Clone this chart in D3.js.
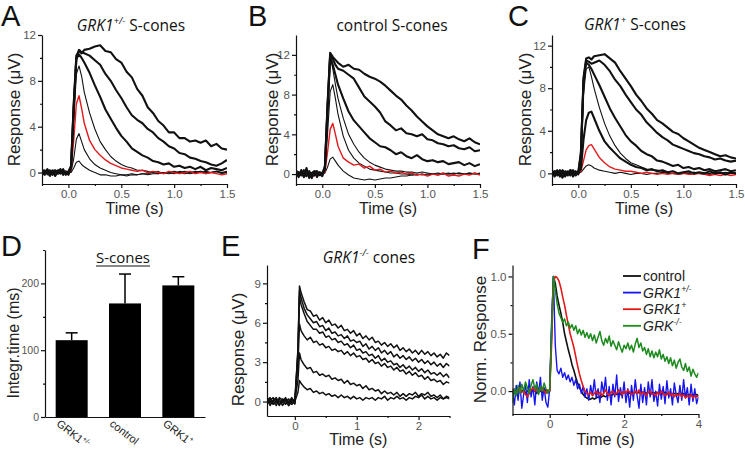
<!DOCTYPE html>
<html lang="en">
<head>
<meta charset="UTF-8">
<title>GRK1 cone responses</title>
<script src="https://d3js.org/d3.v7.min.js"></script>
<style>
  body { margin: 0; background: #fff; }
  svg { display: block; }
  .tick text { font-family: "Liberation Sans", Arial, sans-serif; font-size: 11.5px; fill: #555; }
  .bars .tick text { font-size: 10.5px; }
  .axis path, .axis line { stroke: #111; stroke-width: 1.2px; }
  .letter { font-family: "Liberation Sans", Arial, sans-serif; font-size: 29px; fill: #111; }
  .title { font-family: "Open Sans", sans-serif; font-size: 15.5px; fill: #111; }
  .ylab { font-family: "Liberation Sans", Arial, sans-serif; font-size: 17px; fill: #222; }
  .xlab { font-family: "Liberation Sans", Arial, sans-serif; font-size: 16px; fill: #222; }
  .trace { fill: none; stroke-linejoin: round; }
</style>
</head>
<body>
<svg width="745" height="449"></svg>
<script>
// ---------- data ----------
// time grid for panels A-C (s)
const timeS = [-0.25,-0.225,-0.2,-0.175,-0.15,-0.125,-0.1,-0.075,-0.05,-0.025,0,0.025,0.05,0.075,0.1,0.125,0.15,
  0.2,0.25,0.3,0.35,0.4,0.45,0.5,0.55,0.6,0.65,0.7,0.75,0.8,0.85,0.9,0.95,1,1.05,1.1,1.15,1.2,1.25,1.3,1.35,1.4,1.45,1.5];

// A: GRK1+/- S-cones (uV)
const hetThick = [
  [0.1,-0.2,0.3,-0.1,0.2,-0.3,0.1,0.3,-0.2,0.1,0.0, 0.6,6.0,10.2,10.6,10.4,10.7,
   10.8,11.0,11.1,10.6,10.5,9.9,9.6,8.8,8.3,7.3,6.7,5.7,5.2,4.5,4.1,3.5,3.5,3.0,3.0,2.7,2.8,2.6,2.8,2.3,2.5,2.1,2.0],
  [-0.2,0.2,0.0,-0.3,0.1,0.2,-0.1,0.0,0.3,-0.2,0.1, 0.5,5.8,10.0,10.7,10.5,10.4,
   10.2,9.8,9.4,8.6,8.0,7.2,6.5,5.7,5.0,4.6,4.3,3.8,3.5,3.0,2.7,2.3,2.1,1.7,1.6,1.3,1.2,1.0,0.9,0.7,0.6,0.8,1.1],
  [0.3,-0.1,0.1,0.2,-0.2,0.0,0.2,-0.1,0.1,0.0,-0.2, 0.4,5.5,9.9,10.3,10.0,9.6,
   8.7,7.6,6.6,5.5,4.7,3.9,3.2,2.7,2.1,1.8,1.5,1.3,1.0,0.9,0.7,0.8,0.5,0.6,0.4,0.5,0.3,0.5,0.2,0.4,0.3,0.2,0.4]
];
const hetThin = [
  [0.0,0.1,-0.2,0.1,0.0,0.2,-0.1,0.1,-0.2,0.1,0.0, 0.3,4.5,8.6,9.3,8.4,7.0,
   5.2,3.8,2.7,2.0,1.4,1.0,0.7,0.5,0.4,0.2,0.2,0.1,0.0,0.1,-0.1,0.0,-0.1,0.1,0.0,-0.1,0.0,0.1,-0.1,0.0,0.1,-0.1,0.0],
  [-0.1,0.1,0.0,-0.1,0.1,0.0,-0.1,0.1,0.0,-0.1,0.0, 0.1,1.2,2.9,3.4,2.7,2.0,
   1.2,0.7,0.4,0.2,0.0,-0.1,-0.2,-0.2,-0.1,-0.2,-0.1,-0.1,0.0,-0.1,0.0,0.0,0.1,0.0,0.1,0.0,0.1,0.0,0.1,0.0,0.1,0.0,0.1],
  [0.0,-0.1,0.1,0.0,-0.1,0.1,0.0,-0.1,0.1,0.0,0.0, 0.0,0.4,0.9,1.0,0.7,0.5,
   0.2,0.0,-0.2,-0.2,-0.3,-0.3,-0.2,-0.3,-0.2,-0.2,-0.1,-0.2,-0.1,-0.1,0.0,-0.1,0.0,0.0,-0.1,0.0,0.0,0.1,0.0,0.0,0.1,0.0,0.0]
];
const hetRed = [0.1,-0.1,0.0,0.1,-0.1,0.0,0.1,0.0,-0.1,0.1,0.0, 0.2,2.8,6.0,6.7,5.6,4.3,
  2.8,2.0,1.5,1.1,0.8,0.6,0.4,0.3,0.2,0.1,0.2,0.0,0.1,0.0,-0.1,0.1,0.0,-0.1,0.0,0.1,-0.1,0.0,-0.1,0.0,-0.1,-0.2,-0.1];

// B: control S-cones (uV)
const ctlThick = [
  [0.2,-0.3,0.4,-0.2,0.6,-0.4,0.1,0.3,-0.3,0.2,0.0, 0.8,7.0,12.2,11.8,11.5,11.2,
   10.8,11.0,10.6,10.5,10.1,9.8,9.6,9.3,8.9,8.4,7.9,7.5,6.9,6.4,5.8,5.3,4.8,4.4,4.0,3.8,3.6,3.8,3.5,3.3,3.6,3.2,3.0],
  [-0.3,0.2,0.0,0.4,-0.2,0.1,-0.4,0.2,0.3,-0.1,0.1, 0.6,6.8,12.0,11.6,11.0,10.6,
   10.4,10.0,9.6,8.7,7.8,7.3,6.8,6.2,5.3,4.9,4.4,4.6,4.1,4.0,3.8,4.0,3.5,3.4,3.1,3.0,2.8,2.9,2.6,2.5,2.7,2.3,2.4],
  [0.4,-0.1,0.2,-0.3,0.0,0.3,-0.2,-0.1,0.2,0.0,-0.2, 0.5,6.5,11.8,11.0,10.0,9.0,
   7.6,6.3,5.4,4.8,4.2,3.6,3.2,2.8,2.7,2.4,2.0,2.2,1.8,1.6,1.9,1.5,1.3,1.4,1.2,1.3,1.0,1.1,1.2,0.9,1.1,0.8,1.0]
];
const ctlThin = [
  [0.1,0.0,-0.2,0.2,0.1,-0.1,0.0,0.2,-0.1,0.0,0.1, 0.5,6.6,11.9,10.6,9.0,7.6,
   5.6,4.0,3.0,2.2,1.6,1.2,0.9,0.7,0.5,0.4,0.3,0.3,0.2,0.2,0.1,0.2,0.1,0.0,0.1,0.0,0.1,0.0,0.1,0.0,0.1,0.0,0.1],
  [0.0,0.1,-0.1,0.0,0.1,0.0,-0.1,0.1,0.0,-0.1,0.0, 0.3,4.0,8.3,9.0,7.6,6.0,
   3.8,2.4,1.6,1.1,0.8,0.5,0.4,0.3,0.2,0.1,0.1,0.0,0.0,-0.1,0.0,-0.1,0.0,0.0,-0.1,0.0,0.0,0.1,0.0,0.0,0.1,0.0,0.0],
  [0.0,-0.1,0.1,0.0,-0.1,0.0,0.1,0.0,-0.1,0.0,0.0, 0.1,0.7,1.5,1.7,1.3,0.9,
   0.3,-0.1,-0.4,-0.5,-0.6,-0.5,-0.6,-0.5,-0.4,-0.4,-0.3,-0.2,-0.2,-0.1,-0.1,0.0,-0.1,0.0,0.0,0.1,0.0,0.0,0.1,0.0,0.0,0.1,0.0]
];
const ctlRed = [0.1,-0.1,0.0,0.2,-0.1,0.0,0.1,-0.2,0.0,0.1,0.0, 0.2,2.2,4.5,5.1,4.0,2.8,
  1.6,1.2,0.9,1.0,0.6,0.8,0.4,0.5,0.2,0.3,0.1,0.2,0.0,0.1,-0.1,0.0,-0.2,0.0,-0.1,0.1,-0.2,-0.1,-0.2,0.0,-0.1,0.1,-0.1];

// C: GRK1+ S-cones (uV)
const plusThick = [
  [0.2,-0.3,0.3,0.0,-0.4,0.2,0.1,-0.2,0.3,-0.1,0.1, 2.0,9.0,10.8,10.9,10.7,11.0,
   11.1,11.2,10.8,10.4,9.6,8.9,8.2,7.4,6.8,6.1,5.6,5.0,4.7,4.3,3.9,3.7,3.3,3.0,2.7,2.4,2.2,2.0,1.8,1.6,1.7,1.5,1.4],
  [-0.3,0.1,0.2,-0.2,0.3,-0.1,0.0,0.3,-0.3,0.1,0.0, 1.8,8.8,10.6,10.5,10.3,10.4,
   10.6,10.2,9.6,8.8,8.2,7.4,6.7,6.0,5.5,4.8,4.3,3.8,3.4,3.1,2.7,2.5,2.3,2.1,1.9,1.8,1.6,1.5,1.3,1.4,1.2,1.1,1.2],
  [0.1,0.2,-0.2,0.3,0.0,-0.3,0.2,0.0,-0.1,0.2,-0.1, 1.6,8.5,10.4,10.2,9.8,9.3,
   8.3,7.2,6.1,5.2,4.4,3.6,3.0,2.6,2.1,1.8,1.6,1.2,1.1,0.9,0.7,0.8,0.5,0.6,0.4,0.5,0.3,0.4,0.2,0.3,0.4,0.2,0.3],
  [-0.2,0.2,0.1,-0.3,0.2,0.0,-0.2,0.3,0.1,-0.2,0.1, 0.4,3.2,5.0,5.7,5.8,5.2,
   4.0,3.0,2.4,1.9,1.4,1.1,0.8,0.6,0.5,0.3,0.4,0.2,0.3,0.1,0.2,0.0,0.1,0.2,0.0,0.1,0.0,0.2,0.0,0.1,-0.1,0.1,0.0]
];
const plusThin = [
  [0.0,0.1,-0.1,0.0,0.2,-0.1,0.0,0.1,0.0,-0.1,0.0, 1.2,7.5,9.8,10.0,9.1,8.0,
   6.2,4.7,3.5,2.6,1.9,1.4,1.0,0.8,0.6,0.4,0.3,0.3,0.2,0.1,0.2,0.0,0.1,0.0,0.1,0.0,-0.1,0.0,0.1,0.0,-0.1,0.0,0.0],
  [0.0,0.1,-0.1,0.0,0.1,0.0,-0.1,0.0,0.1,0.0,0.0, 0.1,0.4,0.7,0.8,0.7,0.5,
   0.3,0.2,0.1,0.0,0.1,0.0,-0.1,0.0,0.0,-0.1,0.0,0.0,0.1,0.0,0.0,-0.1,0.0,0.0,0.1,0.0,0.0,-0.1,0.0,0.0,0.1,0.0,0.0]
];
const plusRed = [0.1,-0.1,0.0,0.1,0.0,-0.1,0.1,0.0,-0.1,0.0,0.0, 0.2,1.2,2.2,2.6,2.7,2.3,
  1.5,1.0,0.6,0.4,0.3,0.2,0.2,0.1,0.0,0.1,0.0,-0.1,0.0,-0.1,0.0,-0.1,0.0,-0.1,-0.1,0.0,-0.1,-0.2,-0.1,-0.2,-0.1,-0.2,-0.1];

// D: integration time (ms)
const barGroups = ["GRK1+/-", "control", "GRK1+"];
const barMeans = [115, 170, 197];
const barErrors = [11, 44, 13];

// E: GRK1-/- cones (uV)
const timeE = [-0.45,-0.4,-0.35,-0.3,-0.25,-0.2,-0.15,-0.1,-0.05,0,0.05,0.075,
  0.1,0.15,0.2,0.25,0.3,0.35,0.4,0.45,0.5,0.55,0.6,0.65,0.7,0.75,0.8,0.85,0.9,0.95,1,1.05,1.1,1.15,1.2,1.25,1.3,1.35,1.4,1.45,
  1.5,1.55,1.6,1.65,1.7,1.75,1.8,1.85,1.9,1.95,2,2.05,2.1,2.15,2.2,2.25,2.3,2.35,2.4,2.45,2.5];
const koTraces = [
  [0.2,-0.3,0.1,0.3,-0.2,0.0,0.3,-0.3,0.1,-0.1, 4.0,8.8,
   8.3,7.6,7.0,6.9,6.5,6.6,6.2,6.4,6.0,6.2,5.8,5.9,5.6,5.8,5.4,5.5,5.2,5.4,5.0,5.2,4.8,5.0,4.7,4.9,4.5,4.6,4.3,4.5,
   4.2,4.4,4.1,4.3,3.9,4.1,3.8,4.0,3.7,3.9,3.6,3.9,3.6,3.8,3.5,3.7,3.4,3.6,3.3,3.7,3.5],
  [-0.2,0.1,0.3,-0.1,0.2,-0.3,0.0,0.2,-0.2,0.1, 3.8,8.4,
   7.9,7.1,6.6,6.3,6.0,6.1,5.7,5.8,5.4,5.6,5.2,5.3,5.0,5.1,4.8,5.0,4.6,4.7,4.5,4.6,4.2,4.4,4.0,4.2,3.9,4.1,3.7,3.9,
   3.6,3.8,3.4,3.6,3.3,3.5,3.2,3.4,3.1,3.3,3.0,3.2,2.9,3.1,2.8,3.0,2.7,2.9,2.6,2.9,2.7],
  [0.1,0.3,-0.2,0.0,-0.3,0.2,0.1,-0.1,0.3,-0.2, 3.6,8.0,
   7.4,6.7,6.1,5.8,5.5,5.5,5.2,5.3,4.9,5.0,4.7,4.8,4.5,4.6,4.3,4.4,4.1,4.3,3.9,4.0,3.7,3.8,3.5,3.6,3.3,3.5,3.1,3.3,
   3.0,3.1,2.8,2.9,2.6,2.8,2.5,2.7,2.4,2.6,2.3,2.5,2.2,2.4,2.1,2.2,2.0,2.2,1.9,2.1,1.8],
  [-0.1,0.2,0.0,-0.3,0.3,0.1,-0.2,0.0,0.2,-0.1, 2.8,5.9,
   5.4,5.0,4.7,4.9,4.5,4.6,4.3,4.4,4.1,4.2,3.9,4.0,3.8,3.9,3.6,3.8,3.5,3.7,3.4,3.5,3.2,3.3,3.0,3.2,2.9,3.0,2.7,2.9,
   2.6,2.7,2.4,2.6,2.3,2.4,2.1,2.3,2.0,2.2,1.9,2.0,1.7,1.9,1.6,1.7,1.5,1.6,1.3,1.5,1.4],
  [0.2,-0.1,0.1,0.2,-0.2,0.0,0.1,-0.3,0.0,0.2, 1.6,3.7,
   3.2,2.8,2.5,2.6,2.2,2.3,2.0,2.1,1.9,2.0,1.7,1.8,1.6,1.7,1.4,1.6,1.3,1.4,1.2,1.3,1.0,1.2,0.9,1.0,0.8,0.9,0.6,0.8,
   0.6,0.7,0.5,0.7,0.4,0.6,0.4,0.6,0.5,0.7,0.4,0.6,0.5,0.7,0.4,0.5,0.3,0.5,0.2,0.4,0.3],
  [-0.1,0.0,-0.2,0.1,0.0,-0.1,0.2,0.0,-0.2,0.0, 0.7,1.6,
   1.4,1.1,0.9,1.0,0.7,0.8,0.6,0.7,0.5,0.6,0.4,0.5,0.3,0.5,0.3,0.4,0.2,0.4,0.2,0.3,0.1,0.3,0.2,0.3,0.1,0.3,0.2,0.4,
   0.1,0.3,0.2,0.4,0.2,0.3,0.1,0.3,0.2,0.4,0.3,0.5,0.2,0.4,0.2,0.3,0.1,0.3,0.2,0.3,0.2]
];

// F: normalized responses
const timeF = [-1,-0.95,-0.9,-0.85,-0.8,-0.75,-0.7,-0.65,-0.6,-0.55,-0.5,-0.45,-0.4,-0.35,-0.3,-0.25,-0.2,-0.15,-0.1,-0.05,
  0,0.05,0.1,0.15,0.2,0.25,0.3,0.35,0.4,0.45,0.5,0.55,0.6,0.65,0.7,0.75,0.8,0.85,0.9,0.95,
  1,1.05,1.1,1.15,1.2,1.25,1.3,1.35,1.4,1.45,1.5,1.55,1.6,1.65,1.7,1.75,1.8,1.85,1.9,1.95,
  2,2.05,2.1,2.15,2.2,2.25,2.3,2.35,2.4,2.45,2.5,2.55,2.6,2.65,2.7,2.75,2.8,2.85,2.9,2.95,
  3,3.05,3.1,3.15,3.2,3.25,3.3,3.35,3.4,3.45,3.5,3.55,3.6,3.65,3.7,3.75,3.8,3.85,3.9,3.95,4];
const normControl = [0.01,-0.02,0.0,0.02,-0.01,0.0,0.01,-0.02,0.0,0.01,-0.01,0.02,0.0,-0.02,0.01,0.0,-0.01,0.02,0.0,-0.01,
  0.0,0.5,1.0,0.94,0.83,0.75,0.68,0.6,0.5,0.43,0.36,0.3,0.23,0.18,0.12,0.07,0.03,0.0,-0.03,-0.05,
  -0.06,-0.07,-0.07,-0.06,-0.07,-0.06,-0.05,-0.06,-0.05,-0.04,-0.05,
  -0.04,-0.03,-0.04,-0.03,-0.02,-0.03,-0.02,-0.03,-0.02,-0.01,-0.02,-0.01,-0.02,-0.01,-0.02,-0.01,-0.02,-0.01,-0.02,-0.01,
  -0.01,-0.02,-0.01,-0.02,-0.01,-0.02,-0.01,-0.02,-0.01,-0.02,-0.02,-0.01,-0.02,-0.03,-0.02,-0.03,-0.02,-0.03,-0.02,-0.03,
  -0.03,-0.02,-0.03,-0.04,-0.03,-0.04,-0.03,-0.04,-0.03,-0.04];
const normHet = [0.0,-0.12,0.05,-0.08,0.08,-0.15,-0.03,0.06,-0.1,0.1,-0.05,0.04,-0.12,0.08,-0.02,0.12,-0.08,0.03,-0.1,-0.14,
  0.02,0.6,1.0,0.4,0.18,0.15,0.2,0.12,0.16,0.1,0.14,0.08,0.12,0.05,0.1,0.02,0.06,-0.02,0.04,-0.05,0.02,
  -0.08,0.05,-0.04,0.1,-0.06,0.02,-0.1,0.08,-0.02,0.12,-0.08,0.04,-0.12,0.06,-0.05,0.14,-0.09,0.03,-0.06,0.08,
  -0.1,0.02,-0.14,0.05,-0.08,0.1,-0.04,-0.15,0.06,-0.1,0.03,-0.12,0.08,-0.05,0.1,-0.09,0.0,-0.13,0.06,-0.07,
  0.04,-0.11,0.09,-0.06,0.02,-0.12,0.07,-0.03,-0.1,0.05,-0.08,0.1,-0.06,0.03,-0.12,0.06,-0.09,0.02,-0.11,-0.05];
const normPlus = [0.02,0.0,-0.02,0.01,0.03,-0.01,0.0,-0.03,-0.05,-0.02,0.01,0.03,0.0,0.02,-0.01,0.01,0.03,0.0,-0.02,0.01,
  0.0,0.4,0.95,1.0,0.99,0.96,0.9,0.82,0.75,0.66,0.58,0.5,0.44,0.38,0.3,0.22,0.15,0.09,0.04,0.0,-0.02,
  -0.03,-0.01,-0.04,-0.02,0.0,-0.03,-0.01,-0.04,-0.02,0.01,
  -0.02,-0.04,-0.01,0.0,-0.03,-0.02,0.01,-0.01,-0.03,0.0,
  -0.02,0.01,-0.01,-0.03,-0.02,0.0,-0.02,0.01,-0.03,-0.01,
  -0.02,-0.04,-0.01,0.0,-0.03,-0.02,-0.04,-0.01,-0.03,0.0,
  -0.02,-0.04,-0.03,-0.01,-0.04,-0.02,-0.05,-0.03,-0.04,-0.02,
  -0.05,-0.03,-0.06,-0.04,-0.05,-0.03,-0.06,-0.04,-0.05,-0.04];
const normKo = [-0.1,0.02,-0.04,0.05,-0.02,0.06,0.0,0.08,0.03,-0.02,0.05,0.1,0.02,0.06,-0.03,0.04,0.0,0.07,0.02,-0.02,
  0.02,0.5,1.0,0.88,0.76,0.68,0.64,0.6,0.63,0.57,0.6,0.55,0.58,0.53,0.57,0.5,0.54,0.49,0.53,0.47,0.51,
  0.46,0.5,0.44,0.49,0.42,0.47,0.52,0.44,0.4,0.46,0.42,0.48,0.39,0.44,0.4,0.36,0.43,0.38,0.34,0.4,
  0.37,0.42,0.36,0.4,0.34,0.41,0.46,0.38,0.42,0.35,0.38,0.32,0.37,0.3,0.35,0.29,0.34,0.3,0.36,0.28,
  0.32,0.26,0.3,0.24,0.29,0.22,0.27,0.2,0.25,0.28,0.21,0.18,0.24,0.17,0.21,0.13,0.19,0.15,0.12,0.16];
const legendLabels = [["control", ""], ["GRK1", "+/-"], ["GRK1", "+"], ["GRK", "-/-"]];

// ---------- drawing ----------
const svg = d3.select("svg");
const RED = "#e3191c", BLUE = "#1515f0", GREEN = "#1d8a1d";

function rich(sel, parts, size) {
  let shift = 0;
  parts.forEach(p => {
    const ts = sel.append("tspan").text(p.t);
    if (p.it) ts.attr("font-style", "italic");
    const target = p.sup ? -size * 0.42 : 0;
    if (target !== shift) { ts.attr("dy", target - shift); shift = target; }
    if (p.sup) ts.attr("font-size", size * 0.62);
  });
}

function drawAxes(g, x, y, o) {
  const y0 = y.range()[0], x0 = x.range()[0];
  g.append("g").attr("class", "axis").attr("transform", `translate(0,${y0})`)
    .call(d3.axisBottom(x).tickValues(o.xMajor).tickSize(4).tickSizeOuter(0).tickPadding(2).tickFormat(o.xFmt));
  g.append("g").attr("class", "axis").attr("transform", `translate(0,${y0})`)
    .call(d3.axisBottom(x).tickValues(o.xMinor).tickSize(2).tickFormat(""))
    .select(".domain").remove();
  g.append("g").attr("class", "axis").attr("transform", `translate(${x0},0)`)
    .call(d3.axisLeft(y).tickValues(o.yMajor).tickSize(4).tickSizeOuter(0).tickPadding(2).tickFormat(o.yFmt));
  g.append("g").attr("class", "axis").attr("transform", `translate(${x0},0)`)
    .call(d3.axisLeft(y).tickValues(o.yMinor).tickSize(2).tickFormat(""))
    .select(".domain").remove();
}

function tracePanel(o) {
  const x = d3.scaleLinear().domain(o.xDomain).range(o.xRange);
  const y = d3.scaleLinear().domain(o.yDomain).range(o.yRange);
  const g = svg.append("g");
  g.append("clipPath").attr("id", "clip-" + o.id).append("rect")
    .attr("x", o.xRange[0]).attr("y", o.yRange[1])
    .attr("width", o.xRange[1] - o.xRange[0]).attr("height", o.yRange[0] - o.yRange[1]);
  const plot = g.append("g").attr("clip-path", `url(#clip-${o.id})`);
  const line = d3.line()
    .defined(d => d[0] != null && d[1] != null)
    .x(d => x(d[0])).y(d => y(d[1]));
  o.series.forEach(s => {
    plot.append("path").attr("class", "trace")
      .attr("d", line(s.values.map((v, i) => [s.time[i], v])))
      .attr("stroke", s.color).attr("stroke-width", s.width);
  });
  drawAxes(g, x, y, o);
  // axis titles
  g.append("text").attr("class", "ylab").attr("text-anchor", "middle").attr("dominant-baseline", "central")
    .attr("transform", `translate(${o.yLabX},${(o.yRange[0] + o.yRange[1]) / 2 + (o.yLabDy || 0)}) rotate(-90)`)
    .text(o.yLabel);
  g.append("text").attr("class", "xlab").attr("text-anchor", "middle")
    .attr("x", (o.xRange[0] + o.xRange[1]) / 2).attr("y", o.xLabY).text("Time (s)");
  return { x, y, g };
}

// thin traces first, then red, thick traces on top
function sSeries(thick, thin, red, t) {
  return thin.map(v => ({ time: t, values: v, color: "#111", width: 1.1 }))
    .concat([{ time: t, values: red, color: RED, width: 1.4 }])
    .concat(thick.map(v => ({ time: t, values: v, color: "#111", width: 2.1 })));
}

const sAxis = {
  xDomain: [-0.25, 1.5], xMajor: [0, 0.5, 1, 1.5], xMinor: [-0.25, 0.25, 0.75, 1.25], xFmt: d3.format(".1f"),
  yMajor: [0, 4, 8, 12], yMinor: [2, 6, 10], yFmt: d3.format("d"), yLabel: "Response (\u03bcV)", xLabY: 214
};

tracePanel(Object.assign({}, sAxis, {
  id: "a", xRange: [42, 227], yDomain: [-1, 12], yRange: [184, 35], yLabX: 14,
  series: sSeries(hetThick, hetThin, hetRed, timeS)
}));
tracePanel(Object.assign({}, sAxis, {
  id: "b", xRange: [296, 480], yDomain: [-1, 14], yRange: [184, 35], yLabX: 272,
  series: sSeries(ctlThick, ctlThin, ctlRed, timeS)
}));
tracePanel(Object.assign({}, sAxis, {
  id: "c", xRange: [552, 736], yDomain: [-1, 13], yRange: [184, 35], yLabX: 525,
  series: sSeries(plusThick, plusThin, plusRed, timeS)
}));

tracePanel({
  id: "e", xDomain: [-0.45, 2.5], xRange: [267, 449.5], yDomain: [-1.1, 10.4], yRange: [416, 265],
  xMajor: [0, 1, 2], xMinor: [0.5, 1.5, 2.5], xFmt: d3.format("d"),
  yMajor: [0, 3, 6, 9], yMinor: [1.5, 4.5, 7.5], yFmt: d3.format("d"),
  yLabel: "Response (\u03bcV)", yLabX: 238, yLabDy: 9, xLabY: 445,
  series: koTraces.map(v => ({ time: timeE, values: v, color: "#111", width: 1.5 }))
});

tracePanel({
  id: "f", xDomain: [-1, 4], xRange: [512.5, 698.5], yDomain: [-0.2, 1.1], yRange: [414, 265],
  xMajor: [0, 2, 4], xMinor: [-1, 1, 3], xFmt: d3.format("d"),
  yMajor: [0, 0.5, 1], yMinor: [0.25, 0.75], yFmt: d3.format(".1f"),
  yLabel: "Norm. Response", yLabX: 480, xLabY: 445,
  series: [
    { time: timeF, values: normControl, color: "#111", width: 1.6 },
    { time: timeF, values: normHet, color: BLUE, width: 1.4 },
    { time: timeF, values: normPlus, color: RED, width: 1.6 },
    { time: timeF, values: normKo, color: GREEN, width: 1.5 }
  ]
});

// legend F
const legColors = ["#111", BLUE, RED, GREEN];
legendLabels.forEach((lab, i) => {
  const yy = 276 + i * 16.6;
  svg.append("line").attr("x1", 623).attr("x2", 641).attr("y1", yy).attr("y2", yy)
    .attr("stroke", legColors[i]).attr("stroke-width", 1.8);
  const t = svg.append("text").attr("x", 643).attr("y", yy + 5)
    .attr("font-family", '"Liberation Sans", Arial, sans-serif').attr("font-size", 14).attr("fill", "#222");
  rich(t, lab[1] ? [{ t: lab[0], it: true }, { t: lab[1], it: true, sup: true }] : [{ t: lab[0] }], 14);
});

// ---------- D: bars ----------
{
  const xb = d3.scaleBand().domain(barGroups).range([45, 205]).paddingInner(0.4).paddingOuter(0.2);
  const yb = d3.scaleLinear().domain([0, 250]).range([417, 250]);
  const g = svg.append("g").attr("class", "bars");
  g.selectAll(".bar").data(barGroups).join("rect")
    .attr("x", d => xb(d)).attr("width", xb.bandwidth())
    .attr("y", (d, i) => yb(barMeans[i])).attr("height", (d, i) => yb(0) - yb(barMeans[i]))
    .attr("fill", "#000");
  barGroups.forEach((d, i) => {
    const cx = xb(d) + xb.bandwidth() / 2;
    g.append("line").attr("x1", cx).attr("x2", cx)
      .attr("y1", yb(barMeans[i])).attr("y2", yb(barMeans[i] + barErrors[i]))
      .attr("stroke", "#000").attr("stroke-width", 1.5);
    g.append("line").attr("x1", cx - 6).attr("x2", cx + 6)
      .attr("y1", yb(barMeans[i] + barErrors[i])).attr("y2", yb(barMeans[i] + barErrors[i]))
      .attr("stroke", "#000").attr("stroke-width", 1.5);
    const m = d.match(/^(GRK1)(.*)$/);
    const t = g.append("text")
      .attr("transform", `translate(${cx - 16},${425}) rotate(38)`)
      .attr("font-family", '"Liberation Sans", Arial, sans-serif').attr("font-size", 11).attr("fill", "#222");
    rich(t, m ? [{ t: m[1] }, { t: m[2], sup: true }] : [{ t: d }], 11);
  });
  g.append("g").attr("class", "axis").attr("transform", `translate(0,${yb(0)})`)
    .call(d3.axisBottom(xb).tickSize(0).tickFormat(""));
  g.append("g").attr("class", "axis").attr("transform", "translate(45,0)")
    .call(d3.axisLeft(yb).tickValues([0, 100, 200]).tickSize(4).tickSizeOuter(0).tickPadding(2).tickFormat(d3.format("d")));
  g.append("g").attr("class", "axis").attr("transform", "translate(45,0)")
    .call(d3.axisLeft(yb).tickValues([50, 150, 250]).tickSize(2).tickFormat(""))
    .select(".domain").remove();
  g.append("text").attr("class", "ylab").attr("text-anchor", "middle").attr("dominant-baseline", "central")
    .attr("transform", "translate(13,343) rotate(-90)").style("font-size", "16px").text("Integr.time (ms)");
  const st = g.append("text").attr("class", "title").attr("text-anchor", "middle")
    .attr("x", 123).attr("y", 263).style("font-size", "15px").text("S-cones");
  const bb = st.node().getBBox();
  g.append("line").attr("x1", bb.x).attr("x2", bb.x + bb.width).attr("y1", 266).attr("y2", 266)
    .attr("stroke", "#111").attr("stroke-width", 1);
}

// ---------- titles and panel letters ----------
const titles = [
  { x: 131, y: 31, parts: [{ t: "GRK1", it: true }, { t: "+/-", it: true, sup: true }, { t: " S-cones" }] },
  { x: 392, y: 31, parts: [{ t: "control S-cones" }] },
  { x: 635, y: 30, parts: [{ t: "GRK1", it: true }, { t: "+", it: true, sup: true }, { t: " S-cones" }] },
  { x: 369, y: 263, parts: [{ t: "GRK1", it: true }, { t: "-/-", it: true, sup: true }, { t: " cones" }] }
];
titles.forEach(d => {
  const t = svg.append("text").attr("class", "title").attr("text-anchor", "middle").attr("x", d.x).attr("y", d.y);
  rich(t, d.parts, 15.5);
});

const letters = [["A", 1, 26], ["B", 248, 26], ["C", 508, 26], ["D", 1, 256], ["E", 221, 256], ["F", 472, 259]];
svg.selectAll(".letter").data(letters).join("text").attr("class", "letter")
  .attr("x", d => d[1]).attr("y", d => d[2]).text(d => d[0]);
</script>
</body>
</html>
